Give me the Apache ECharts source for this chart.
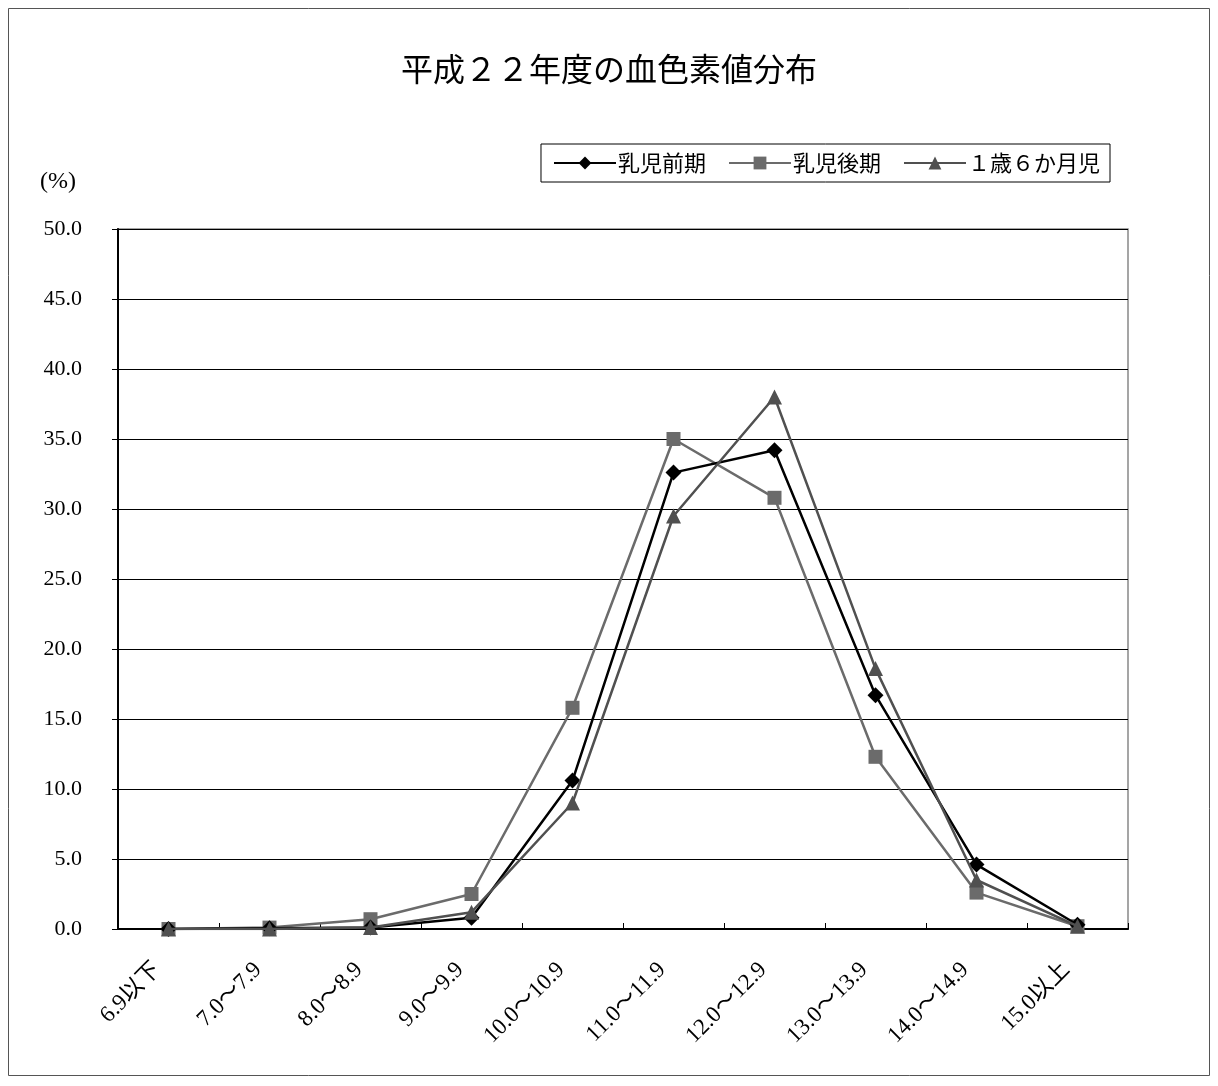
<!DOCTYPE html>
<html>
<head>
<meta charset="utf-8">
<script src="https://cdn.jsdelivr.net/npm/echarts@6/dist/echarts.min.js"></script>
<style>
  html, body { margin: 0; padding: 0; background: #fff; }
  #chart { width: 1218px; height: 1086px; }
</style>
</head>
<body>
<div id="chart"></div>
<script>
// 階級（血色素値）
var categories = ['6.9以下', '7.0～7.9', '8.0～8.9', '9.0～9.9', '10.0～10.9',
  '11.0～11.9', '12.0～12.9', '13.0～13.9', '14.0～14.9', '15.0以上'];

// 割合（%）
var zenki = [0.0, 0.05, 0.1, 0.8, 10.6, 32.6, 34.2, 16.7, 4.6, 0.3];
var kouki = [0.0, 0.1, 0.7, 2.5, 15.8, 35.0, 30.8, 12.3, 2.6, 0.2];
var sai16 = [0.0, 0.0, 0.1, 1.2, 9.0, 29.5, 38.0, 18.6, 3.5, 0.2];

var seriesNames = ['乳児前期', '乳児後期', '１歳６か月児'];

var fontMin = "'Liberation Serif', 'DejaVu Serif', 'Noto Sans CJK JP', serif";
var fontJp = "'Noto Sans CJK JP', sans-serif";

var chart = echarts.init(document.getElementById('chart'));

var option = {
	backgroundColor: '#fff',
	animation: false,
	textStyle: { fontFamily: fontMin },
	title: {
		text: '平成２２年度の血色素値分布',
		left: 'center',
		top: 48,
		textStyle: {
			fontSize: 32,
			fontWeight: 'normal',
			color: '#000',
			fontFamily: fontJp
		}
	},
	legend: {
		right: 108,
		top: 144,
		padding: [8, 10, 8, 12],
		itemGap: 22,
		itemWidth: 62,
		itemHeight: 16,
		borderColor: '#000',
		borderWidth: 1,
		textStyle: {
			fontSize: 22,
			color: '#000',
			padding: [0, 0, 0, -3],
			fontFamily: fontJp
		},
		data: seriesNames
	},
	graphic: [
		{
			type: 'rect',
			shape: { x: 8.5, y: 8.5, width: 1201, height: 1067 },
			style: { fill: 'none', stroke: '#555', lineWidth: 1 }
		},
		{
			type: 'text',
			left: 40,
			top: 170,
			style: { text: '(%)', fill: '#000', font: '24px ' + fontMin }
		}
	],
	grid: {
		left: 118,
		right: 90,
		top: 229,
		bottom: 157,
		show: true,
		borderColor: '#888',
		borderWidth: 1.5,
		containLabel: false
	},
	xAxis: {
		type: 'category',
		data: categories,
		boundaryGap: true,
		axisLine: { lineStyle: { color: '#000', width: 2 } },
		axisTick: { show: true, inside: true, length: 6, lineStyle: { color: '#000' } },
		axisLabel: {
			rotate: 45,
			margin: 26,
			padding: [0, 16, 0, 0],
			fontSize: 23,
			color: '#000',
			fontFamily: fontMin
		}
	},
	yAxis: {
		type: 'value',
		min: 0,
		max: 50,
		interval: 5,
		axisLine: { show: true, lineStyle: { color: '#000', width: 2 } },
		axisTick: { show: true, length: 6, lineStyle: { color: '#000' } },
		axisLabel: {
			margin: 36,
			fontSize: 22,
			color: '#000',
			fontFamily: fontMin,
			formatter: function(v) { return v.toFixed(1); }
		},
		splitLine: { lineStyle: { color: '#000', width: 1 } }
	},
	series: [
		{
			name: seriesNames[0],
			type: 'line',
			data: zenki,
			symbol: 'diamond',
			symbolSize: 16,
			z: 4,
			itemStyle: { color: '#000' },
			lineStyle: { color: '#000', width: 2.5 }
		},
		{
			name: seriesNames[1],
			type: 'line',
			data: kouki,
			symbol: 'rect',
			symbolSize: 14,
			z: 3,
			itemStyle: { color: '#6b6b6b' },
			lineStyle: { color: '#6b6b6b', width: 2.5 }
		},
		{
			name: seriesNames[2],
			type: 'line',
			data: sai16,
			symbol: 'triangle',
			symbolSize: 15,
			z: 5,
			itemStyle: { color: '#505050' },
			lineStyle: { color: '#505050', width: 2.5 }
		}
	]
};

chart.setOption(option);
</script>
</body>
</html>
